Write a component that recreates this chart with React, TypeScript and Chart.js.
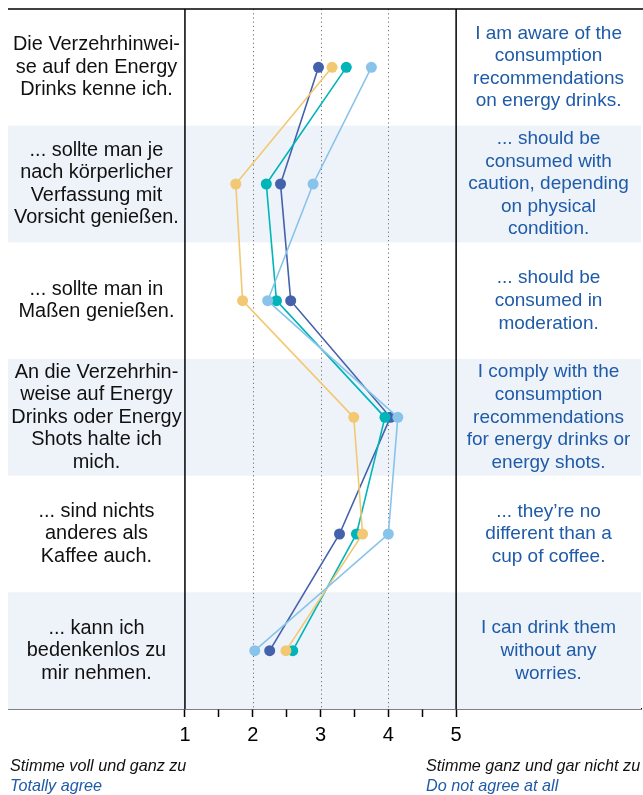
import React, { useEffect, useRef } from "react";
import { Chart, registerables } from "chart.js";

Chart.register(...registerables);

// Statements (rows, top to bottom)
const statementsDe: string[][] = [
  ["Die Verzehrhinwei-", "se auf den Energy", "Drinks kenne ich."],
  ["... sollte man je", "nach körperlicher", "Verfassung mit", "Vorsicht genießen."],
  ["... sollte man in", "Maßen genießen."],
  ["An die Verzehrhin-", "weise auf Energy", "Drinks oder Energy", "Shots halte ich", "mich."],
  ["... sind nichts", "anderes als", "Kaffee auch."],
  ["... kann ich", "bedenkenlos zu", "mir nehmen."],
];

const statementsEn: string[][] = [
  ["I am aware of the", "consumption", "recommendations", "on energy drinks."],
  ["... should be", "consumed with", "caution, depending", "on physical", "condition."],
  ["... should be", "consumed in", "moderation."],
  ["I comply with the", "consumption", "recommendations", "for energy drinks or", "energy shots."],
  ["... they’re no", "different than a", "cup of coffee."],
  ["I can drink them", "without any", "worries."],
];

// Series values (scale 1 = totally agree ... 5 = do not agree at all)
const seriesLightBlue = [3.75, 2.89, 2.22, 4.14, 4.0, 2.03];
const seriesYellow = [3.17, 1.75, 1.85, 3.49, 3.62, 2.49];
const seriesTeal = [3.38, 2.2, 2.35, 3.95, 3.53, 2.59];
const seriesDarkBlue = [2.97, 2.41, 2.56, 4.03, 3.28, 2.25];

const tickValues = [1, 1.5, 2, 2.5, 3, 3.5, 4, 4.5, 5];
const gridValues = [2, 3, 4];
const edgeValues = [1, 5];

const leftLabelDe = "Stimme voll und ganz zu";
const leftLabelEn = "Totally agree";
const rightLabelDe = "Stimme ganz und gar nicht zu";
const rightLabelEn = "Do not agree at all";

const FONT = "'Liberation Sans', Arial, sans-serif";
const BLUE_TEXT = "#1F5BA8";
const BAND = "#EEF3FA";

function toPoints(vals: number[]) {
  return vals.map((v, i) => ({ x: v, y: i }));
}

const decorPlugin = {
  id: "decor",
  beforeDatasetsDraw(chart: any) {
    const { ctx, chartArea } = chart;
    const xs = chart.scales.x;
    const ys = chart.scales.y;
    ctx.save();
    // bands
    for (let i = 0; i < statementsDe.length; i++) {
      const top = ys.getPixelForValue(i - 0.5);
      const bot = ys.getPixelForValue(i + 0.5);
      if (i % 2 === 1) {
        ctx.fillStyle = BAND;
        ctx.fillRect(chartArea.left, top, chartArea.right - chartArea.left, bot - top);
      }
    }
    // dotted grid lines
    ctx.strokeStyle = "#707070";
    ctx.lineWidth = 1;
    ctx.setLineDash([1.2, 3]);
    gridValues.forEach((v) => {
      const px = Math.round(xs.getPixelForValue(v)) + 0.5;
      ctx.beginPath();
      ctx.moveTo(px, chartArea.top);
      ctx.lineTo(px, chartArea.bottom);
      ctx.stroke();
    });
    ctx.setLineDash([]);
    // solid edge lines
    ctx.strokeStyle = "#000";
    ctx.lineWidth = 1.5;
    edgeValues.forEach((v) => {
      const px = xs.getPixelForValue(v);
      ctx.beginPath();
      ctx.moveTo(px, chartArea.top);
      ctx.lineTo(px, chartArea.bottom);
      ctx.stroke();
    });
    // top line
    ctx.beginPath();
    ctx.moveTo(chartArea.left, chartArea.top);
    ctx.lineTo(chartArea.right + 2, chartArea.top);
    ctx.stroke();

    // row texts
    const leftCx = (chartArea.left + xs.getPixelForValue(1)) / 2;
    const rightCx = (xs.getPixelForValue(5) + chartArea.right) / 2;
    const lh = 22.6;
    ctx.textAlign = "center";
    ctx.textBaseline = "middle";
    for (let i = 0; i < statementsDe.length; i++) {
      const cy = ys.getPixelForValue(i);
      const de = statementsDe[i];
      ctx.font = `19.9px ${FONT}`;
      ctx.fillStyle = "#111";
      de.forEach((line, k) => {
        ctx.fillText(line, leftCx, cy + (k - (de.length - 1) / 2) * lh);
      });
      const en = statementsEn[i];
      ctx.font = `19px ${FONT}`;
      ctx.fillStyle = BLUE_TEXT;
      en.forEach((line, k) => {
        ctx.fillText(line, rightCx, cy + (k - (en.length - 1) / 2) * lh);
      });
    }
    ctx.restore();
  },
  afterDraw(chart: any) {
    const { ctx } = chart;
    ctx.save();
    ctx.font = `italic 16.2px ${FONT}`;
    ctx.textAlign = "left";
    ctx.textBaseline = "middle";
    ctx.fillStyle = "#111";
    ctx.fillText(leftLabelDe, 2, 758);
    ctx.fillText(rightLabelDe, 418, 758);
    ctx.fillStyle = BLUE_TEXT;
    ctx.fillText(leftLabelEn, 2, 778);
    ctx.fillText(rightLabelEn, 418, 778);
    ctx.restore();
  },
};

export default function App() {
  const ref = useRef<HTMLCanvasElement | null>(null);

  useEffect(() => {
    document.documentElement.style.overflow = "hidden";
    document.body.style.width = "635px";
    document.body.style.height = "787px";
    const canvas = ref.current;
    if (!canvas) return;
    const mk = (label: string, vals: number[], color: string) => ({
      label,
      data: toPoints(vals),
      borderColor: color,
      backgroundColor: color,
      pointBackgroundColor: color,
      pointBorderWidth: 0,
      pointRadius: 5.5,
      borderWidth: 1.6,
      showLine: true,
      tension: 0,
      clip: false,
    });
    const chart = new Chart(canvas, {
      type: "line",
      data: {
        datasets: [
          mk("Light blue", seriesLightBlue, "#88C4EA"),
          mk("Yellow", seriesYellow, "#F3C872"),
          mk("Teal", seriesTeal, "#00B5B9"),
          mk("Dark blue", seriesDarkBlue, "#4461AC"),
        ] as any,
      },
      options: {
        animation: false,
        responsive: false,
        layout: { autoPadding: false, padding: { top: 1, left: 0, right: 2, bottom: 42 } },
        plugins: { legend: { display: false }, tooltip: { enabled: false } },
        scales: {
          x: {
            type: "linear",
            min: -1.61,
            max: 7.727,
            afterBuildTicks: (scale: any) => {
              scale.ticks = tickValues.map((v) => ({ value: v }));
            },
            grid: {
              display: true,
              drawOnChartArea: false,
              drawTicks: true,
              tickLength: 8,
              tickWidth: 1.5,
              tickColor: "#000",
            },
            border: { display: true, color: "#000", width: 1.5 },
            ticks: {
              autoSkip: false,
              maxRotation: 0,
              padding: 6,
              color: "#000",
              font: { family: FONT, size: 20 },
              callback: (v: any) => (Number.isInteger(Number(v)) ? String(v) : ""),
            },
          },
          y: {
            type: "linear",
            min: -0.5,
            max: 5.5,
            reverse: true,
            display: false,
          },
        },
      } as any,
      plugins: [decorPlugin],
    });
    return () => chart.destroy();
  }, []);

  return (
    <div style={{ width: 635, height: 787 }}>
      <canvas ref={ref} width={635} height={787} style={{ display: "block" }} />
    </div>
  );
}
